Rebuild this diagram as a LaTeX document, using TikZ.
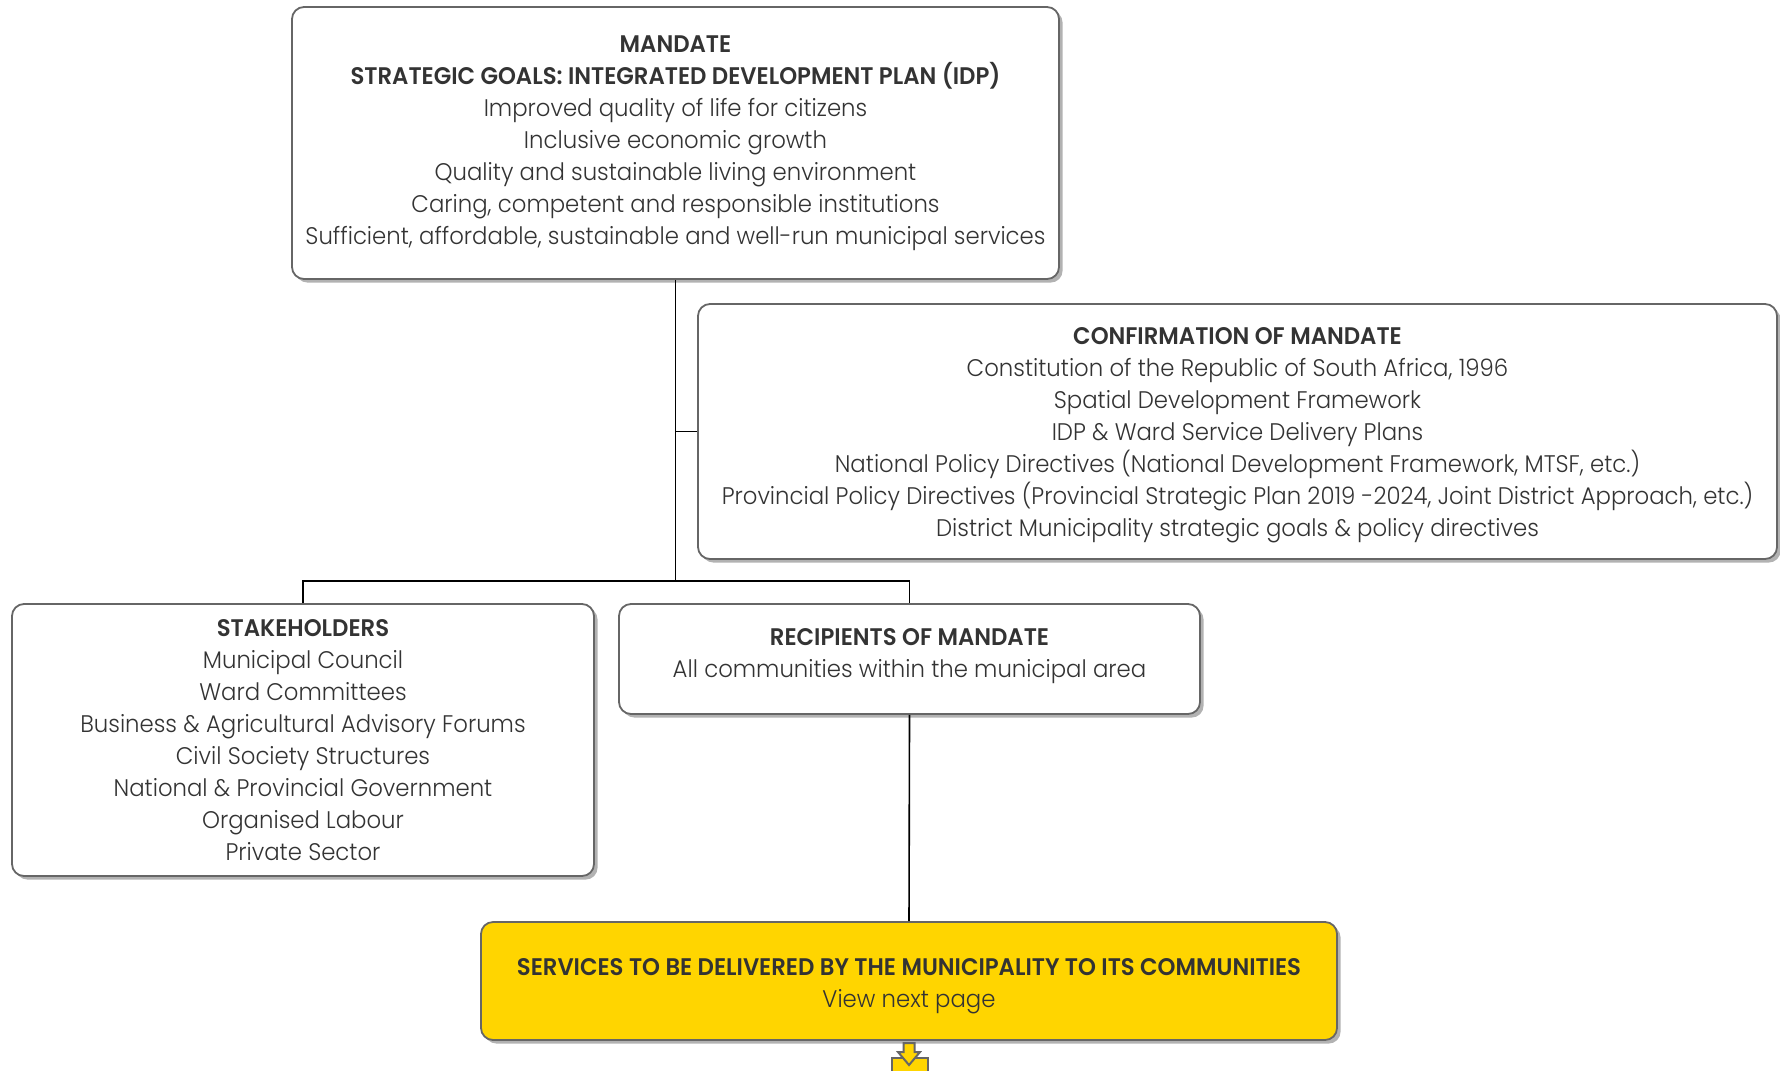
\documentclass[tikz,border=0pt]{standalone}
\usepackage{fontspec}
\IfFontExistsTF{Poppins Light}{%
  \setmainfont{Poppins Light}[FakeStretch=0.95, BoldFont={Poppins SemiBold}, BoldFeatures={FakeStretch=0.95}]%
}{%
  \setmainfont{Poppins}[FakeStretch=0.95, BoldFeatures={FakeStretch=0.95}]%
}
\usetikzlibrary{shadows}
\definecolor{txt}{HTML}{333333}
\definecolor{bord}{HTML}{666666}
\definecolor{yel}{HTML}{FFD500}
\tikzset{
  box/.style={draw=bord, line width=0.9pt, rounded corners=6pt, fill=white,
    align=center, text=txt, font=\fontsize{12}{16}\selectfont, inner sep=0pt,
    drop shadow={shadow xshift=1.8pt, shadow yshift=-1.8pt, fill=black!30, opacity=1}},
  conn/.style={draw=black, line width=0.8pt},
}
\begin{document}
\begin{tikzpicture}[x=0.5pt, y=-0.5pt]
\useasboundingbox (0,0) rectangle (1780,1070);
\node[box, minimum width=383.5pt, minimum height=136pt] (top) at (675.5,143) {%
  \textbf{MANDATE}\\
  \textbf{STRATEGIC GOALS: INTEGRATED DEVELOPMENT PLAN (IDP)}\\
  Improved quality of life for citizens\\
  Inclusive economic growth\\
  Quality and sustainable living environment\\
  Caring, competent and responsible institutions\\
  Sufficient, affordable, sustainable and well-run municipal services};
\node[box, minimum width=539.5pt, minimum height=127.5pt] (conf) at (1237.5,431.5) {%
  \textbf{CONFIRMATION OF MANDATE}\\
  Constitution of the Republic of South Africa, 1996\\
  Spatial Development Framework\\
  IDP \& Ward Service Delivery Plans\\
  National Policy Directives (National Development Framework, MTSF, etc.)\\
  Provincial Policy Directives (Provincial Strategic Plan 2019 -2024, Joint District Approach, etc.)\\
  District Municipality strategic goals \& policy directives\\[-16.5pt]\mbox{}};
\node[box, minimum width=291pt, minimum height=136pt] (stake) at (303,740) {%
  \textbf{STAKEHOLDERS}\\
  Municipal Council\\
  Ward Committees\\
  Business \& Agricultural Advisory Forums\\
  Civil Society Structures\\
  National \& Provincial Government\\
  Organised Labour\\
  Private Sector};
\node[box, minimum width=290.5pt, minimum height=55pt] (recip) at (909.5,659) {%
  \textbf{RECIPIENTS OF MANDATE}\\
  All communities within the municipal area\\[-10pt]\mbox{}};
\node[box, fill=yel, minimum width=428pt, minimum height=59pt] (yelbox) at (909,981) {%
  \textbf{SERVICES TO BE DELIVERED BY THE MUNICIPALITY TO ITS COMMUNITIES}\\
  View next page\\[-17.5pt]\mbox{}};
\coordinate (jy) at (0,581);
\draw[conn] (top.south) -- (top.south |- jy);
\draw[conn] (top.south |- conf.west) -- (conf.west);
\draw[conn] (stake.north) -- (stake.north |- jy) -- (recip.north |- jy) -- (recip.north);
\draw[conn] (recip.south) -- (yelbox.north);
% next-page arrow
\draw[draw=bord, fill=yel, line width=1pt] (892,1080) -- (892,1058) -- (928,1058) -- (928,1080);
\draw[draw=bord, fill=yel, line width=1pt, line join=miter]
  (903.5,1043) -- (914.5,1043) -- (914.5,1052) -- (920,1052) -- (909,1065) -- (898,1052) -- (903.5,1052) -- cycle;
\end{tikzpicture}
\end{document}
